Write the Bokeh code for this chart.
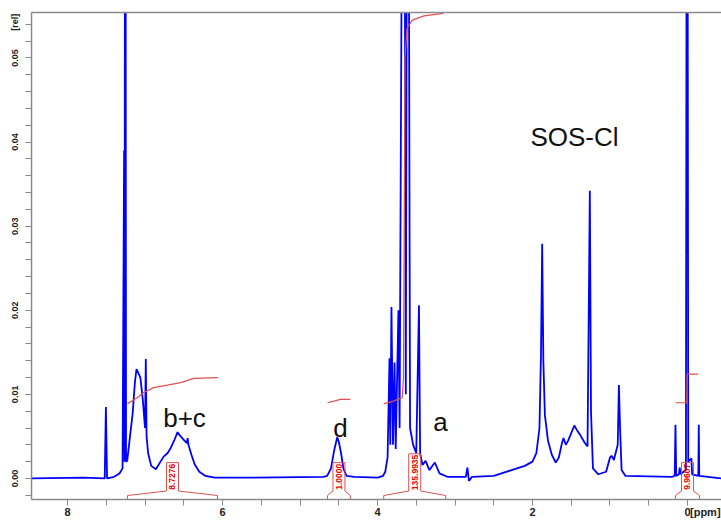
import math
from bokeh.plotting import figure
from bokeh.models import (Range1d, LinearAxis, FixedTicker, Label, PrintfTickFormatter)
from bokeh.embed import file_html
from bokeh.resources import INLINE
from bokeh.core.properties import value

# ---------------- data ----------------
spec_ppm = [8.46, 7.80, 7.52, 7.505, 7.49, 7.40, 7.33, 7.29, 7.27, 7.265, 7.255, 7.245,
            7.23, 7.20, 7.16, 7.13, 7.11, 7.09, 7.06, 7.03, 7.00, 6.99, 6.98, 6.96, 6.92,
            6.86, 6.80, 6.76, 6.71, 6.67, 6.62, 6.58, 6.54, 6.50, 6.46, 6.45, 6.44, 6.40,
            6.36, 6.30, 6.22, 6.10, 5.60, 4.70, 4.65, 4.60, 4.56, 4.52, 4.50, 4.47, 4.44,
            4.40, 4.30, 4.00, 3.93, 3.90, 3.87, 3.845, 3.835, 3.82, 3.80, 3.78, 3.765,
            3.73, 3.715, 3.66, 3.635, 3.61, 3.58, 3.54, 3.50, 3.465, 3.45, 3.42, 3.38,
            3.33, 3.26, 3.20, 3.10, 2.86, 2.84, 2.82, 2.78, 2.50, 2.30, 2.10, 2.00, 1.95,
            1.91, 1.89, 1.875, 1.86, 1.84, 1.80, 1.75, 1.70, 1.66, 1.62, 1.60, 1.57, 1.54,
            1.50, 1.46, 1.43, 1.38, 1.33, 1.29, 1.26, 1.245, 1.22, 1.15, 1.05, 1.00, 0.98,
            0.95, 0.90, 0.885, 0.87, 0.85, 0.80, 0.20, 0.165, 0.155, 0.145, 0.11, 0.10,
            0.09, 0.02, 0.005, -0.01, -0.05, -0.06, -0.14, -0.146, -0.152, -0.44]
spec_int = [0.0, 0.0001, 0.0, 0.0085, 0.0, 0.0002, 0.0006, 0.0012, 0.039, 0.002, 0.12, 0.002,
            0.0021, 0.0045, 0.0077, 0.0115, 0.0130, 0.0126, 0.0120, 0.0095, 0.0060, 0.0142,
            0.0050, 0.0030, 0.0015, 0.0011, 0.0020, 0.0026, 0.0030, 0.0036, 0.0046, 0.0055,
            0.0050, 0.0046, 0.0042, 0.0048, 0.0040, 0.0028, 0.0017, 0.0008, 0.0003, 0.0001,
            0.0001, 0.0002, 0.0003, 0.0012, 0.0033, 0.0049, 0.0044, 0.0030, 0.0012, 0.0003,
            0.0002, 0.0001, 0.0003, 0.0008, 0.0025, 0.0143, 0.0040, 0.0204, 0.0040, 0.0138,
            0.0035, 0.0200, 0.0060, 0.12, 0.0100, 0.12, 0.0060, 0.0040, 0.0030, 0.0206,
            0.0030, 0.0016, 0.0021, 0.0010, 0.0019, 0.0006, 0.0002, 0.0002, 0.0013, -0.0003,
            0.0002, 0.0003, 0.0009, 0.0015, 0.0020, 0.0030, 0.0060, 0.0150, 0.0279, 0.0140,
            0.0075, 0.0045, 0.0028, 0.0019, 0.0025, 0.0042, 0.0048, 0.0040, 0.0045, 0.0054,
            0.0063, 0.0058, 0.0051, 0.0043, 0.0038, 0.0342, 0.0080, 0.0012, 0.0005, 0.0008,
            0.0025, 0.0027, 0.0022, 0.0040, 0.0111, 0.0060, 0.0010, 0.0003, 0.0002, 0.0003,
            0.0064, 0.0003, 0.0005, 0.0013, 0.0005, 0.0010, 0.12, 0.0020, 0.0024, 0.0005,
            0.0003, 0.0064, 0.0003, 0.0]

# integral curves
int_bc_ppm = [7.226, 7.10, 7.02, 6.89, 6.71, 6.54, 6.37, 6.06]
int_bc_val = [0.0089, 0.0096, 0.0102, 0.0108, 0.0111, 0.0114, 0.0119, 0.0120]
int_d_ppm = [4.645, 4.56, 4.48, 4.35]
int_d_val = [0.0090, 0.0092, 0.0094, 0.0094]
int_a_ppm = [3.92, 3.82, 3.74, 3.68, 3.665, 3.655, 3.645, 3.62, 3.55, 3.40, 3.15]
int_a_val = [0.0089, 0.0091, 0.0094, 0.0096, 0.0120, 0.0300, 0.0500, 0.0535, 0.0545, 0.0550, 0.0553]
int_t_ppm = [0.155, 0.010, 0.004, -0.140]
int_t_val = [0.0090, 0.0090, 0.0124, 0.0124]

# integration regions
region_start = [7.226, 4.645, 3.92, 0.155]
region_end = [6.065, 4.35, 3.12, -0.155]
region_labels = ["8.7276", "1.0000", "135.9935", "9.9607"]

# assignment labels
peak_names = ["b+c", "d", "a"]
peak_pos = [6.49, 4.477, 3.187]
peak_base = [0.00714, 0.00595, 0.00667]
title_text = "SOS-Cl"

# axis ticks and labels
x_label_ticks = [0, 2, 4, 6, 8]
x_tick_labels = ["0", "2", "4", "6", "8"]
y_label_ticks = [0.0, 0.01, 0.02, 0.03, 0.04, 0.05]
x_unit = "[ppm]"
y_unit = "[rel]"

# ---------------- figure ----------------
X0, X1 = 8.465, -0.439
Y0, Y1 = -0.0025, 0.0554
W, H = 721, 520
ML, MT, MB = 31, 12, 21
FH = H - MT - MB
PX = (Y1 - Y0) / FH               # data units per screen pixel (vertical)
PXX = (X0 - X1) / (W - ML)        # ppm per screen pixel

X_UNIT_POS = -0.23                # where the unit text sits on the x axis row
Y_UNIT_POS = 0.05423              # where the unit text sits on the y axis column

p = figure(width=W, height=H, output_backend="svg", toolbar_location=None,
           x_range=Range1d(X0, X1), y_range=Range1d(Y0, Y1),
           min_border_left=ML, min_border_right=0, min_border_top=MT, min_border_bottom=MB,
           x_axis_type=None, y_axis_type=None)
p.outline_line_color = None
p.xgrid.visible = False
p.ygrid.visible = False
p.background_fill_color = "white"
p.border_fill_color = "white"

FONT = "Liberation Sans"
AXC = "#8a8a8a"

x_minor = [round(0.5 * i, 2) for i in range(-1, 18)]
y_minor = [round(0.002 * i, 3) for i in range(-1, 28)]

xa = LinearAxis(ticker=FixedTicker(ticks=x_label_ticks + [X_UNIT_POS], minor_ticks=x_minor),
                formatter=PrintfTickFormatter(format="%d"))
xa.major_label_overrides = dict(zip([float(t) for t in x_label_ticks], x_tick_labels))
xa.major_label_overrides[X_UNIT_POS] = x_unit
xa.axis_line_color = AXC
xa.axis_line_width = 1.5
xa.major_tick_line_color = None
xa.minor_tick_line_color = AXC
xa.major_tick_out = 6
xa.major_tick_in = 0
xa.minor_tick_out = 6
xa.minor_tick_in = 0
xa.major_label_text_font = FONT
xa.major_label_text_font_size = "11px"
xa.major_label_text_font_style = "bold"
xa.major_label_text_color = "#222222"
xa.major_label_standoff = 0
p.add_layout(xa, "below")

ya = LinearAxis(ticker=FixedTicker(ticks=y_label_ticks + [Y_UNIT_POS], minor_ticks=y_minor),
                formatter=PrintfTickFormatter(format="%.2f"))
ya.major_label_overrides = {Y_UNIT_POS: y_unit}
ya.axis_line_color = AXC
ya.axis_line_width = 1.5
ya.major_tick_line_color = None
ya.minor_tick_line_color = AXC
ya.major_tick_out = 6
ya.major_tick_in = 0
ya.minor_tick_out = 6
ya.minor_tick_in = 0
ya.major_label_orientation = "vertical"
ya.major_label_text_font = FONT
ya.major_label_text_font_size = "9px"
ya.major_label_text_font_style = "bold"
ya.major_label_text_color = "#222222"
ya.major_label_standoff = 5
p.add_layout(ya, "left")

ta = LinearAxis(ticker=FixedTicker(ticks=[]))
ta.axis_line_color = AXC
ta.axis_line_width = 1.5
ta.major_tick_line_color = None
ta.minor_tick_line_color = None
ta.major_label_standoff = 0
p.add_layout(ta, "above")

# spectrum
p.line(spec_ppm, spec_int, line_color="#0000ff", line_width=1.8)

# integrals
RED = "#e05050"
for xs, ys in [(int_bc_ppm, int_bc_val), (int_d_ppm, int_d_val),
               (int_a_ppm, int_a_val), (int_t_ppm, int_t_val)]:
    p.line(xs, ys, line_color=RED, line_width=1.2)

# integration brackets with labels
for s, e, lab in zip(region_start, region_end, region_labels):
    xc = (s + e) / 2.0
    hw = 6 * PXX
    yb = Y0
    ye = Y0 + 4 * PX
    ym = Y0 + 8.5 * PX
    th = (len(lab) * 4.4 + 2) * PX
    yt = ym + th
    bx = [s, s, xc + hw, xc + hw, xc - hw, xc - hw, e, e]
    by = [yb, ye, ym, yt, yt, ym, ye, yb]
    p.line(bx, by, line_color=RED, line_width=1.0)
    p.text([xc], [(ym + yt) / 2.0], text=[lab], angle=math.pi / 2,
           text_align="center", text_baseline="middle",
           text_font=value(FONT), text_font_size="8.5px", text_font_style="bold",
           text_color="#ee0000")

# assignment labels
p.text(peak_pos, peak_base, text=peak_names, text_align="center",
       text_baseline="alphabetic", text_font=value(FONT), text_font_size="26px",
       text_color="#111111")
p.add_layout(Label(x=1.458, y=0.0406, text=title_text, text_align="center",
                   text_baseline="alphabetic", text_font=FONT, text_font_size="26px",
                   text_color="#111111"))

open("out.html", "w").write(file_html(p, INLINE))
